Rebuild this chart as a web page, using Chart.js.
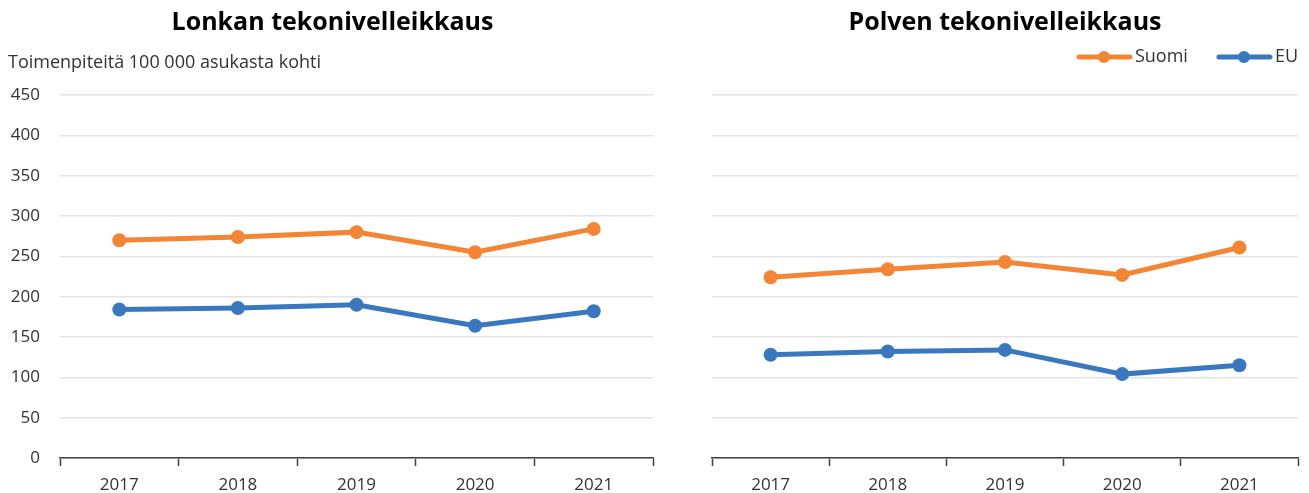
<!DOCTYPE html>
<html>
<head>
<meta charset="utf-8">
<script src="https://cdn.jsdelivr.net/npm/chart.js@4"></script>
<style>
  html, body { margin: 0; padding: 0; background: #fff; }
  #wrap { position: relative; width: 1309px; height: 493px; }
  .box { position: absolute; top: 0; height: 493px; }
  #left { left: 0; width: 660px; }
  #right { left: 705px; width: 604px; }
</style>
</head>
<body>
<div id="wrap">
  <div class="box" id="left"><canvas id="hipChart"></canvas></div>
  <div class="box" id="right"><canvas id="kneeChart"></canvas></div>
</div>
<script>
const years = ['2017', '2018', '2019', '2020', '2021'];
const hipSuomi = [270, 274, 280, 255, 284];
const hipEU = [184, 186, 190, 164, 182];
const kneeSuomi = [224, 234, 243, 227, 261];
const kneeEU = [128, 132, 134, 104, 115];
const yTicks = [0, 50, 100, 150, 200, 250, 300, 350, 400, 450];

const ORANGE = '#f38535';
const BLUE = '#3978be';
const FONT = 'Open Sans';

Chart.defaults.font.family = FONT;
Chart.defaults.color = '#333';

// Legend marker: line with a dot, drawn right of the box centre so it ends next to the text
function legendMarker(color) {
    const c = document.createElement('canvas');
    c.width = 92;
    c.height = 14;
    const g = c.getContext('2d');
    g.strokeStyle = color;
    g.lineWidth = 5;
    g.lineCap = 'round';
    g.beginPath();
    g.moveTo(38, 7);
    g.lineTo(89, 7);
    g.stroke();
    g.fillStyle = color;
    g.beginPath();
    g.arc(63, 7, 6, 0, Math.PI * 2);
    g.fill();
    return c;
}

function series(label, data, color) {
    return {
        label: label,
        data: data,
        borderColor: color,
        backgroundColor: color,
        borderWidth: 5,
        pointRadius: 7,
        pointHoverRadius: 7,
        pointBorderWidth: 0,
        tension: 0
    };
}

function makeOptions(showTicks, yMax, extraPlugins) {
    return {
        responsive: true,
        maintainAspectRatio: false,
        animation: false,
        layout: { padding: { left: showTicks ? 8 : 0, right: showTicks ? 3 : 11, top: 0, bottom: 0 } },
        plugins: Object.assign({
            tooltip: { enabled: false }
        }, extraPlugins),
        scales: {
            x: {
                offset: true,
                grid: {
                    offset: true,
                    drawOnChartArea: false,
                    drawTicks: true,
                    tickLength: 8,
                    tickColor: '#404040',
                    tickWidth: 1.5
                },
                border: { color: '#404040', width: 1.5 },
                ticks: { font: { size: 17 }, color: '#333', padding: 9, maxRotation: 0 },
                afterFit: (s) => { s.height = 35; }
            },
            y: {
                min: 0,
                max: yMax,
                afterBuildTicks: (s) => { s.ticks = yTicks.map(v => ({ value: v })); },
                grid: { color: '#e4e4e4', lineWidth: 1.5, drawTicks: false },
                border: { display: false },
                ticks: { display: showTicks, font: { size: 17 }, color: '#333', padding: 20 },
                afterFit: (s) => { s.width = showTicks ? 52 : 0; }
            }
        }
    };
}

new Chart(document.getElementById('hipChart'), {
    type: 'line',
    data: {
        labels: years,
        datasets: [series('Suomi', hipSuomi, ORANGE), series('EU', hipEU, BLUE)]
    },
    options: makeOptions(true, 450, {
        legend: { display: false },
        title: {
            display: true,
            text: 'Lonkan tekonivelleikkaus',
            color: '#000',
            font: { size: 25, weight: 'bold' },
            padding: { top: 8, bottom: 0 }
        },
        subtitle: {
            display: true,
            text: 'Toimenpiteitä 100 000 asukasta kohti',
            align: 'start',
            color: '#333',
            font: { size: 18 },
            padding: { top: 14.2, bottom: 21.2 }
        }
    })
});

// legend sits lower than the title, so the knee chart's area starts higher;
// the extra headroom above 450 keeps the gridlines level with the hip chart
new Chart(document.getElementById('kneeChart'), {
    type: 'line',
    data: {
        labels: years,
        datasets: [series('Suomi', kneeSuomi, ORANGE), series('EU', kneeEU, BLUE)]
    },
    options: makeOptions(false, 473.6, {
        title: {
            display: true,
            fullSize: false,
            text: 'Polven tekonivelleikkaus',
            color: '#000',
            font: { size: 25, weight: 'bold' },
            padding: { top: 8, bottom: 10 }
        },
        legend: {
            display: true,
            position: 'top',
            align: 'end',
            labels: {
                usePointStyle: true,
                pointStyleWidth: 78,
                boxHeight: 18,
                padding: 0,
                font: { size: 18 },
                color: '#333',
                generateLabels: (chart) => chart.data.datasets.map((ds, i) => ({
                    text: ds.label,
                    fillStyle: ds.borderColor,
                    strokeStyle: ds.borderColor,
                    fontColor: '#333',
                    lineWidth: 0,
                    pointStyle: legendMarker(ds.borderColor),
                    hidden: false,
                    datasetIndex: i
                }))
            }
        }
    })
});
</script>
</body>
</html>
